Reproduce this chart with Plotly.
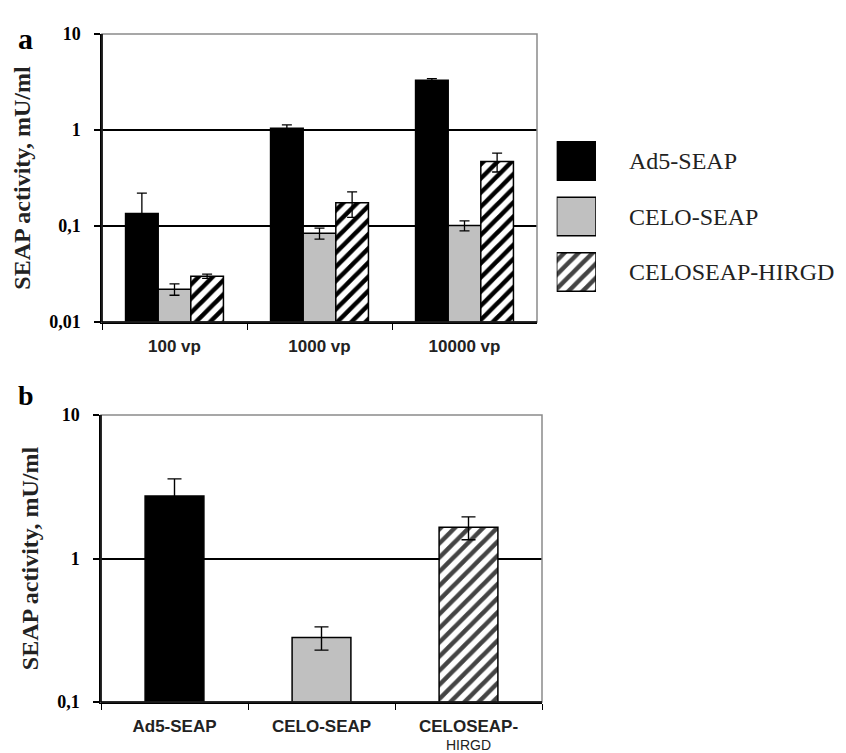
import plotly.graph_objects as go

# ---- data ----
doses = ["100 vp", "1000 vp", "10000 vp"]
series = ["Ad5-SEAP", "CELO-SEAP", "CELOSEAP-HIRGD"]
ad5_a = [0.135, 1.04, 3.30]
ad5_a_err = [0.085, 0.09, 0.13]
celo_a = [0.022, 0.084, 0.101]
celo_a_err = [0.003, 0.011, 0.012]
hirgd_a = [0.030, 0.175, 0.47]
hirgd_a_err = [0.0015, 0.052, 0.105]

vectors_b = ["Ad5-SEAP", "CELO-SEAP", "CELOSEAP-HIRGD"]
values_b = [2.73, 0.282, 1.65]
errors_b = [0.86, 0.052, 0.30]
ticktext_b = ["<span style='font-size:17px'>Ad5-SEAP</span>",
              "<span style='font-size:17px'>CELO-SEAP</span>",
              "<span style='font-size:17px'>CELOSEAP-</span><br>"
              "<span style='font-size:14px;font-weight:normal'>HIRGD</span>"]

y_ticks_a = [0.01, 0.1, 1, 10]
y_text_a = ["0,01", "0,1", "1", "10"]
y_ticks_b = [0.1, 1, 10]
y_text_b = ["0,1", "1", "10"]
legend_x = [1, 1, 1]

# ---- styles ----
colors = ["#000000", "#c0c0c0", "#ffffff"]
patterns = ["", "", "/"]
OFF = 8                      # page body margin
W, H = 846 - OFF, 753 - OFF

def px_x(a, b):
    return [(a - OFF) / W, (b - OFF) / W]

def px_y(top, bottom):
    return [1 - (bottom - OFF) / H, 1 - (top - OFF) / H]

hatch = dict(fgcolor="#000000", bgcolor="#ffffff", fgopacity=1, size=10,
             solidity=0.45, fillmode="overlay")

fig = go.Figure()

series_a = [(ad5_a, ad5_a_err), (celo_a, celo_a_err), (hirgd_a, hirgd_a_err)]
for i, (vals, errs) in enumerate(series_a):
    fig.add_trace(go.Bar(
        x=doses, y=vals, name=series[i], xaxis="x", yaxis="y",
        marker=dict(color=colors[i], line=dict(color="black", width=1.5),
                    pattern=dict(shape=patterns[i], **hatch)),
        error_y=dict(type="data", array=errs, color="black", thickness=1.3, width=5),
        showlegend=False,
    ))

fig.add_trace(go.Bar(
    x=vectors_b, y=values_b, xaxis="x2", yaxis="y2", width=0.4,
    marker=dict(color=colors, line=dict(color="black", width=1.5),
                pattern=dict(shape=patterns, **hatch)),
    error_y=dict(type="data", array=errors_b, color="black", thickness=1.4, width=7),
    showlegend=False,
))

# legend drawn as a small panel of swatches
fig.add_trace(go.Bar(
    x=legend_x, y=series, orientation="h", xaxis="x3", yaxis="y3", width=0.69,
    marker=dict(color=colors, line=dict(color="black", width=1.5),
                pattern=dict(shape=patterns, **hatch)),
    showlegend=False, hoverinfo="skip",
))

ytick_font = dict(family="Liberation Serif", size=18, color="black", weight="bold")
ytitle_font = dict(family="Liberation Serif", size=24, color="#222", weight="bold")

common_y = dict(type="log", showgrid=True, gridcolor="black", gridwidth=1.5,
                showline=True, linecolor="black", linewidth=1.5,
                ticks="outside", ticklen=6, tickcolor="black", tickwidth=1.5,
                tickfont=ytick_font, ticklabelstandoff=10, automargin=False,
                zeroline=False)

fig.update_layout(
    width=W, height=H,
    margin=dict(l=0, r=0, t=0, b=0),
    paper_bgcolor="white", plot_bgcolor="white",
    barmode="group", bargap=0.325, bargroupgap=0,
    xaxis=dict(domain=px_x(102, 537), anchor="y", type="category",
               showline=True, linecolor="black", linewidth=1.5,
               ticks="outside", tickson="boundaries", ticklen=6, tickcolor="black",
               tickfont=dict(family="Liberation Sans", size=17, color="#222", weight="bold"),
               ticklabelstandoff=8, tickangle=0, automargin=False),
    yaxis=dict(domain=px_y(34, 322), anchor="x", range=[-2, 1],
               tickvals=y_ticks_a, ticktext=y_text_a,
               title=dict(text="SEAP activity, mU/ml", font=ytitle_font, standoff=12),
               **common_y),
    xaxis2=dict(domain=px_x(101, 542), anchor="y2", type="category",
                tickvals=vectors_b, ticktext=ticktext_b,
                showline=True, linecolor="black", linewidth=1.5,
                ticks="outside", tickson="boundaries", ticklen=6, tickcolor="black",
                tickfont=dict(family="Liberation Sans", size=14, color="#222", weight="bold"),
                ticklabelstandoff=11, tickangle=0, automargin=False),
    yaxis2=dict(domain=px_y(415, 702), anchor="x2", range=[-1, 1],
                tickvals=y_ticks_b, ticktext=y_text_b,
                title=dict(text="SEAP activity, mU/ml", font=ytitle_font, standoff=12),
                **common_y),
    xaxis3=dict(domain=px_x(556.7, 596), anchor="y3", range=[0, 1],
                visible=False, fixedrange=True),
    yaxis3=dict(domain=px_y(133.25, 299.75), anchor="x3", type="category",
                autorange="reversed", side="right", showline=False, showgrid=False,
                ticks="", ticklabelstandoff=32, automargin=False,
                tickfont=dict(family="Liberation Serif", size=24, color="#222")),
    shapes=[
        dict(type="rect", xref="x domain", yref="y domain", x0=0, x1=1, y0=0, y1=1,
             line=dict(color="#8a8a8a", width=1.5), layer="above"),
        dict(type="rect", xref="x2 domain", yref="y2 domain", x0=0, x1=1, y0=0, y1=1,
             line=dict(color="#8a8a8a", width=1.5), layer="above"),
    ],
    annotations=[
        dict(text="a", xref="paper", yref="paper", x=(16 - OFF) / W, y=1 - (20 - OFF) / H,
             showarrow=False, font=dict(family="Liberation Serif", size=30,
                                        color="black", weight="bold")),
        dict(text="b", xref="paper", yref="paper", x=(16 - OFF) / W, y=1 - (396 - OFF) / H,
             showarrow=False, font=dict(family="Liberation Serif", size=28,
                                        color="black", weight="bold")),
    ],
)

# black left/bottom axis lines over the grey frame
for ax in ["x", "x2"]:
    yref = "y" if ax == "x" else "y2"
    fig.add_shape(type="line", xref=f"{ax} domain", yref=f"{yref} domain",
                  x0=0, x1=0, y0=0, y1=1, line=dict(color="black", width=1.5), layer="above")
    fig.add_shape(type="line", xref=f"{ax} domain", yref=f"{yref} domain",
                  x0=0, x1=1, y0=0, y1=0, line=dict(color="black", width=1.5), layer="above")

fig.write_html("out.html")
